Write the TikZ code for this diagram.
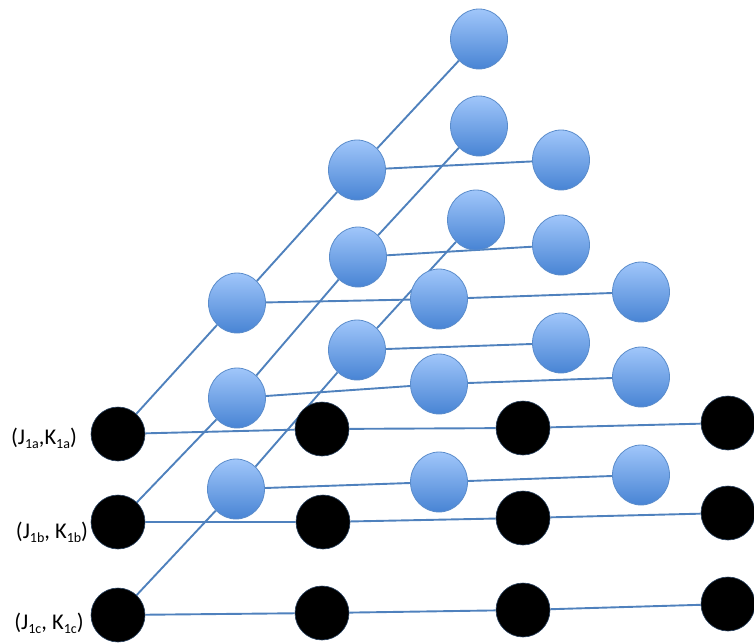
\documentclass[tikz,border=0pt]{standalone}
\usepackage{fontspec}
\setmainfont{Carlito}
\usetikzlibrary{shapes.geometric,backgrounds}
\definecolor{lnblue}{HTML}{4F81BD}
\definecolor{btop}{HTML}{A0C6FA}
\definecolor{bbot}{HTML}{4884D4}
\definecolor{bedge}{HTML}{5A8CCB}
\newcommand\lsub[1]{\raisebox{-0.35ex}{\fontsize{14}{14}\selectfont #1}}
\begin{document}
\begin{tikzpicture}[x=1pt,y=-1pt,
  bnode/.style={ellipse, minimum width=57pt, minimum height=60pt, inner sep=0pt,
    draw=bedge, line width=0.8pt, top color=btop, bottom color=bbot},
  knode/.style={circle, minimum size=54pt, inner sep=0pt, fill=black,
    draw=lnblue!50!black, line width=0.6pt},
  conn/.style={draw=lnblue, line width=1.9pt},
  lbl/.style={font=\fontsize{22.5}{24}\selectfont, inner sep=0pt}]
\useasboundingbox (0,0) rectangle (754,643);
% blue nodes
\node[bnode] (t1) at (479,39) {};
\node[bnode] (t2) at (479,126) {};
\node[bnode] (t3) at (476,220) {};
\node[bnode] (m1) at (357,170) {};
\node[bnode] (m1r) at (561,160) {};
\node[bnode] (m2) at (358,257) {};
\node[bnode] (m2r) at (561,245) {};
\node[bnode] (m3) at (357,350) {};
\node[bnode] (m3r) at (561,343) {};
\node[bnode] (l1) at (237,303) {};
\node[bnode] (l1m) at (439,299) {};
\node[bnode] (l1r) at (641,292) {};
\node[bnode] (l2) at (237,398) {};
\node[bnode] (l2m) at (439,384) {};
\node[bnode] (l2r) at (641,377) {};
\node[bnode] (l3) at (236,489) {};
\node[bnode] (l3m) at (439,482) {};
\node[bnode] (l3r) at (641,475) {};
% black nodes
\node[knode] (a1) at (118,434) {};
\node[knode] (a2) at (322,429) {};
\node[knode] (a3) at (523,428) {};
\node[knode] (a4) at (728,423) {};
\node[knode] (b1) at (118,522) {};
\node[knode] (b2) at (323,522) {};
\node[knode] (b3) at (523,518) {};
\node[knode] (b4) at (728,513) {};
\node[knode] (c1) at (118,615) {};
\node[knode] (c2) at (322,613) {};
\node[knode] (c3) at (523,610) {};
\node[knode] (c4) at (728,604) {};
% labels
\node[lbl] (la) at (44,438) {(J\lsub{1a},K\lsub{1a})};
\node[lbl] (lb) at (52,532) {(J\lsub{1b}, K\lsub{1b})};
\node[lbl] (lc) at (49,623) {(J\lsub{1c}, K\lsub{1c})};
% connectors
\begin{scope}[on background layer]
\draw[conn] (a1) -- (l1) (l1) -- (m1) (m1) -- (t1);
\draw[conn] (b1) -- (l2) (l2) -- (m2) (m2) -- (t2);
\draw[conn] (c1) -- (l3) (l3) -- (m3) (m3) -- (t3);
\draw[conn] (m1) -- (m1r);
\draw[conn] (m2) -- (m2r);
\draw[conn] (m3) -- (m3r);
\draw[conn] (l1) -- (l1m) (l1m) -- (l1r);
\draw[conn] (l2) -- (l2m) (l2m) -- (l2r);
\draw[conn] (l3) -- (l3m) (l3m) -- (l3r);
\draw[conn] (a1) -- (a2) (a2) -- (a3) (a3) -- (a4);
\draw[conn] (b1) -- (b2) (b2) -- (b3) (b3) -- (b4);
\draw[conn] (c1) -- (c2) (c2) -- (c3) (c3) -- (c4);
\end{scope}
\end{tikzpicture}
\end{document}
